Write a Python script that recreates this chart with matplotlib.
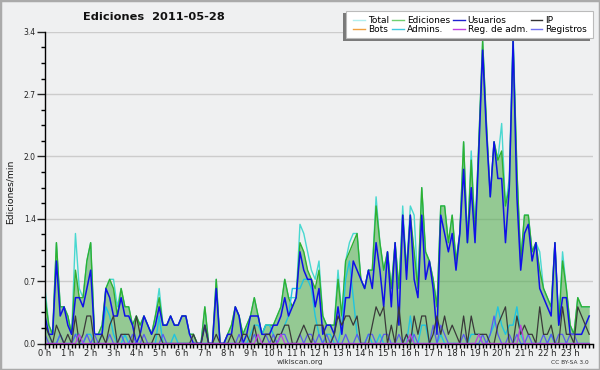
import matplotlib
matplotlib.use('Agg')
import matplotlib.pyplot as plt
import numpy as np
from matplotlib.patches import Rectangle
from matplotlib.lines import Line2D
from matplotlib.ticker import MultipleLocator

# edits per minute, one value every 10 minutes (6 per hour, 24 hours)
total = [
    0.6, 0.2, 0.1, 1.1, 0.4, 0.4,   0.3, 0.1, 1.2, 0.6, 0.5, 0.9,
    1.1, 0.1, 0.1, 0.2, 0.6, 0.7,   0.7, 0.4, 0.6, 0.4, 0.4, 0.2,
    0.3, 0.2, 0.3, 0.2, 0.1, 0.3,   0.6, 0.2, 0.2, 0.3, 0.2, 0.2,
    0.3, 0.3, 0.1, 0.1, 0.0, 0.0,   0.4, 0.0, 0.0, 0.7, 0.0, 0.0,
    0.1, 0.2, 0.4, 0.3, 0.1, 0.2,   0.3, 0.5, 0.3, 0.1, 0.2, 0.2,
    0.2, 0.3, 0.4, 0.7, 0.5, 0.5,   0.5, 1.3, 1.2, 1.0, 0.8, 0.7,
    0.9, 0.3, 0.2, 0.2, 0.2, 0.8,   0.3, 0.9, 1.1, 1.2, 1.2, 0.7,
    0.6, 0.8, 0.8, 1.6, 1.1, 0.8,   1.0, 0.6, 1.1, 0.6, 1.5, 0.8,
    1.5, 1.4, 0.6, 1.7, 1.0, 0.9,   0.7, 0.4, 1.5, 1.5, 1.1, 1.4,
    0.9, 1.2, 2.2, 1.1, 2.1, 1.2,   2.2, 3.3, 2.4, 1.6, 2.2, 2.0,
    2.4, 1.5, 1.8, 3.4, 1.9, 0.9,   1.4, 1.4, 1.0, 1.1, 1.0, 0.6,
    0.5, 0.4, 1.1, 0.2, 1.0, 0.6,   0.2, 0.1, 0.5, 0.4, 0.4, 0.4,
]
ediciones = [
    0.5, 0.2, 0.1, 1.1, 0.4, 0.4,   0.3, 0.1, 0.8, 0.5, 0.5, 0.9,
    1.1, 0.1, 0.1, 0.2, 0.6, 0.7,   0.6, 0.3, 0.6, 0.4, 0.4, 0.2,
    0.3, 0.2, 0.3, 0.2, 0.1, 0.3,   0.5, 0.2, 0.2, 0.3, 0.2, 0.2,
    0.3, 0.3, 0.1, 0.1, 0.0, 0.0,   0.4, 0.0, 0.0, 0.7, 0.0, 0.0,
    0.1, 0.2, 0.4, 0.3, 0.1, 0.2,   0.3, 0.5, 0.3, 0.1, 0.2, 0.2,
    0.2, 0.3, 0.4, 0.7, 0.5, 0.4,   0.5, 1.1, 1.0, 0.8, 0.7, 0.6,
    0.8, 0.3, 0.2, 0.2, 0.2, 0.7,   0.3, 0.9, 1.0, 1.1, 1.2, 0.7,
    0.6, 0.8, 0.8, 1.5, 1.1, 0.8,   1.0, 0.6, 1.1, 0.6, 1.4, 0.8,
    1.4, 1.0, 0.6, 1.7, 1.0, 0.9,   0.7, 0.4, 1.5, 1.5, 1.1, 1.4,
    0.9, 1.2, 2.2, 1.1, 2.0, 1.2,   2.2, 3.3, 2.4, 1.6, 2.2, 2.0,
    2.1, 1.5, 1.7, 3.3, 1.9, 0.9,   1.4, 1.4, 1.0, 1.1, 0.8, 0.6,
    0.5, 0.4, 1.1, 0.2, 0.9, 0.6,   0.2, 0.1, 0.5, 0.4, 0.4, 0.4,
]
usuarios = [
    0.3, 0.1, 0.1, 0.9, 0.3, 0.4,   0.2, 0.1, 0.5, 0.5, 0.4, 0.6,
    0.8, 0.1, 0.1, 0.1, 0.6, 0.5,   0.3, 0.3, 0.5, 0.3, 0.3, 0.2,
    0.0, 0.1, 0.3, 0.2, 0.1, 0.2,   0.4, 0.2, 0.2, 0.3, 0.2, 0.2,
    0.3, 0.3, 0.1, 0.0, 0.0, 0.0,   0.2, 0.0, 0.0, 0.6, 0.0, 0.0,
    0.1, 0.1, 0.4, 0.3, 0.0, 0.1,   0.3, 0.3, 0.3, 0.1, 0.1, 0.1,
    0.2, 0.2, 0.3, 0.5, 0.3, 0.4,   0.5, 1.0, 0.8, 0.7, 0.7, 0.4,
    0.6, 0.1, 0.2, 0.2, 0.1, 0.4,   0.1, 0.5, 0.5, 0.9, 0.8, 0.7,
    0.6, 0.8, 0.6, 1.1, 0.8, 0.4,   1.0, 0.4, 1.1, 0.2, 1.4, 0.7,
    1.4, 0.7, 0.5, 1.4, 0.7, 0.9,   0.6, 0.1, 1.4, 1.2, 1.0, 1.2,
    0.8, 1.2, 1.9, 1.1, 1.7, 1.1,   2.1, 3.2, 2.3, 1.6, 2.2, 1.8,
    1.8, 1.1, 1.7, 3.3, 1.6, 0.8,   1.2, 1.3, 0.9, 1.1, 0.6, 0.5,
    0.4, 0.3, 1.1, 0.2, 0.5, 0.5,   0.1, 0.1, 0.1, 0.1, 0.2, 0.3,
]
ip = [
    0.2, 0.1, 0.0, 0.2, 0.1, 0.0,   0.1, 0.0, 0.3, 0.0, 0.1, 0.3,
    0.3, 0.0, 0.0, 0.1, 0.0, 0.2,   0.3, 0.0, 0.1, 0.1, 0.1, 0.0,
    0.3, 0.1, 0.0, 0.0, 0.0, 0.1,   0.1, 0.0, 0.0, 0.0, 0.0, 0.0,
    0.0, 0.0, 0.0, 0.1, 0.0, 0.0,   0.2, 0.0, 0.0, 0.1, 0.0, 0.0,
    0.0, 0.1, 0.0, 0.0, 0.1, 0.1,   0.0, 0.2, 0.0, 0.0, 0.1, 0.1,
    0.0, 0.1, 0.1, 0.2, 0.2, 0.0,   0.0, 0.1, 0.2, 0.1, 0.0, 0.2,
    0.2, 0.2, 0.0, 0.0, 0.1, 0.3,   0.2, 0.3, 0.3, 0.2, 0.3, 0.0,
    0.0, 0.0, 0.2, 0.4, 0.3, 0.4,   0.0, 0.2, 0.0, 0.4, 0.0, 0.1,
    0.0, 0.3, 0.1, 0.3, 0.3, 0.0,   0.1, 0.3, 0.1, 0.3, 0.1, 0.2,
    0.1, 0.0, 0.3, 0.0, 0.3, 0.1,   0.1, 0.1, 0.1, 0.0, 0.0, 0.2,
    0.3, 0.4, 0.0, 0.0, 0.3, 0.1,   0.2, 0.1, 0.1, 0.0, 0.4, 0.1,
    0.1, 0.2, 0.0, 0.0, 0.4, 0.1,   0.1, 0.0, 0.4, 0.3, 0.2, 0.1,
]
bots = [0.0] * 144
admins = [
    0.2, 0.1, 0.0, 0.0, 0.1, 0.0,   0.0, 0.0, 0.1, 0.1, 0.0, 0.1,
    0.1, 0.0, 0.0, 0.1, 0.4, 0.3,   0.1, 0.0, 0.0, 0.1, 0.0, 0.0,
    0.0, 0.0, 0.0, 0.0, 0.0, 0.0,   0.3, 0.0, 0.0, 0.0, 0.1, 0.0,
    0.0, 0.0, 0.0, 0.0, 0.0, 0.0,   0.0, 0.0, 0.0, 0.0, 0.0, 0.0,
    0.0, 0.0, 0.0, 0.0, 0.0, 0.0,   0.1, 0.2, 0.2, 0.1, 0.2, 0.2,
    0.1, 0.0, 0.1, 0.2, 0.3, 0.6,   0.6, 0.6, 0.7, 0.7, 0.6, 0.3,
    0.1, 0.0, 0.1, 0.1, 0.0, 0.0,   0.2, 0.7, 0.9, 0.5, 0.1, 0.0,
    0.0, 0.1, 0.0, 0.0, 0.1, 0.0,   0.0, 0.0, 0.0, 0.0, 0.0, 0.0,
    0.3, 0.0, 0.0, 0.2, 0.2, 0.0,   0.0, 0.0, 0.1, 0.0, 0.0, 0.0,
    0.0, 0.0, 0.0, 0.0, 0.1, 0.1,   0.1, 0.0, 0.0, 0.1, 0.2, 0.4,
    0.2, 0.1, 0.2, 0.2, 0.4, 0.1,   0.0, 0.0, 0.0, 0.0, 0.0, 0.0,
    0.0, 0.1, 0.0, 0.0, 0.0, 0.0,   0.0, 0.0, 0.0, 0.0, 0.0, 0.0,
]
reg_adm = [
    0.0, 0.0, 0.0, 0.0, 0.0, 0.0,   0.0, 0.0, 0.0, 0.1, 0.0, 0.0,
    0.0, 0.0, 0.0, 0.0, 0.0, 0.0,   0.0, 0.0, 0.0, 0.0, 0.0, 0.0,
    0.0, 0.0, 0.0, 0.0, 0.0, 0.0,   0.0, 0.0, 0.0, 0.0, 0.0, 0.0,
    0.0, 0.0, 0.0, 0.0, 0.0, 0.0,   0.0, 0.0, 0.0, 0.0, 0.0, 0.0,
    0.0, 0.0, 0.0, 0.0, 0.0, 0.0,   0.0, 0.0, 0.1, 0.0, 0.0, 0.0,
    0.0, 0.0, 0.1, 0.0, 0.0, 0.0,   0.0, 0.0, 0.0, 0.0, 0.0, 0.0,
    0.0, 0.0, 0.0, 0.0, 0.0, 0.0,   0.0, 0.0, 0.0, 0.0, 0.0, 0.0,
    0.0, 0.0, 0.0, 0.0, 0.0, 0.0,   0.0, 0.0, 0.0, 0.0, 0.0, 0.0,
    0.1, 0.0, 0.0, 0.0, 0.0, 0.0,   0.0, 0.0, 0.0, 0.0, 0.0, 0.0,
    0.0, 0.0, 0.0, 0.0, 0.0, 0.0,   0.1, 0.0, 0.0, 0.0, 0.0, 0.0,
    0.0, 0.0, 0.0, 0.0, 0.0, 0.2,   0.0, 0.0, 0.0, 0.0, 0.0, 0.0,
    0.0, 0.0, 0.0, 0.0, 0.0, 0.0,   0.0, 0.0, 0.0, 0.0, 0.0, 0.0,
]
registros = [
    0.1, 0.0, 0.0, 0.0, 0.1, 0.0,   0.0, 0.0, 0.1, 0.0, 0.0, 0.1,
    0.0, 0.1, 0.0, 0.0, 0.0, 0.1,   0.0, 0.0, 0.1, 0.0, 0.0, 0.1,
    0.0, 0.0, 0.1, 0.0, 0.0, 0.0,   0.0, 0.1, 0.0, 0.0, 0.0, 0.0,
    0.0, 0.0, 0.0, 0.0, 0.0, 0.0,   0.0, 0.0, 0.0, 0.0, 0.0, 0.0,
    0.0, 0.0, 0.0, 0.1, 0.0, 0.0,   0.0, 0.1, 0.0, 0.0, 0.1, 0.0,
    0.1, 0.0, 0.1, 0.1, 0.0, 0.0,   0.0, 0.1, 0.0, 0.1, 0.1, 0.0,
    0.1, 0.0, 0.1, 0.0, 0.1, 0.0,   0.0, 0.1, 0.0, 0.0, 0.1, 0.0,
    0.0, 0.1, 0.1, 0.0, 0.0, 0.1,   0.1, 0.0, 0.0, 0.1, 0.0, 0.1,
    0.0, 0.1, 0.0, 0.0, 0.0, 0.0,   0.2, 0.0, 0.2, 0.1, 0.0, 0.0,
    0.0, 0.0, 0.1, 0.0, 0.0, 0.0,   0.0, 0.1, 0.0, 0.1, 0.3, 0.1,
    0.0, 0.0, 0.1, 0.0, 0.1, 0.0,   0.0, 0.1, 0.0, 0.0, 0.0, 0.1,
    0.0, 0.1, 0.0, 0.1, 0.1, 0.0,   0.1, 0.1, 0.0, 0.0, 0.0, 0.0,
]

hour_labels = ['%d h' % h for h in range(24)]
y_ticks = [0.0, 0.68, 1.36, 2.04, 2.72, 3.4]
y_labels = ['0.0', '0.7', '1.4', '2.0', '2.7', '3.4']

x = np.arange(len(ediciones)) / 6.0

bg = '#eff0f1'
fig = plt.figure(figsize=(6, 3.7), dpi=100, facecolor=bg)
ax = fig.add_axes([45/600, 1-343.5/370, 548/600, (343.5-31.8)/370])
ax.set_facecolor(bg)

ax.plot(x, bots, color='#f0a040', lw=1.0, zorder=1)
ax.fill_between(x, ediciones, color='#57af55', alpha=0.6, lw=0, zorder=2)
ax.plot(x, total, color='#48d8d0', lw=1.0, zorder=3)
ax.plot(x, ediciones, color='#30b030', lw=1.0, zorder=4)
ax.plot(x, admins, color='#20c4e0', lw=1.0, zorder=5)
ax.plot(x, usuarios, color='#1010e8', lw=1.1, zorder=6)
ax.plot(x, ip, color='#3a3a3a', lw=0.9, zorder=7)
ax.plot(x, registros, color='#5a5af0', lw=0.9, zorder=6)
ax.plot(x, reg_adm, color='#c040e0', lw=0.9, zorder=7)

ax.set_xlim(0, 24)
ax.set_ylim(0, 3.4)
ax.set_yticks(y_ticks)
ax.set_yticklabels(y_labels)
ax.yaxis.set_minor_locator(MultipleLocator(0.17))
ax.set_xticks(np.arange(24))
ax.set_xticklabels(hour_labels)
ax.xaxis.set_minor_locator(MultipleLocator(1/6))
ax.tick_params(axis='y', which='major', length=6, width=1, labelsize=5.5, pad=0.5, colors='#222222')
ax.tick_params(axis='y', which='minor', length=3, width=1)
ax.tick_params(axis='x', which='major', length=3.5, width=1, labelsize=6, pad=0.3, colors='#222222')
ax.tick_params(axis='x', which='minor', length=3, width=1)
ax.grid(axis='y', color='#cccccc', lw=1)
ax.set_axisbelow(True)
for s in ['top', 'right']:
    ax.spines[s].set_visible(False)
for s in ['left', 'bottom']:
    ax.spines[s].set_color('black')
    ax.spines[s].set_linewidth(1)
    ax.spines[s].set_zorder(10)

fig.text(154/600, 1-17/370, 'Ediciones  2011-05-28', ha='center', va='center',
         fontsize=8.2, fontweight='bold', color='#111111')
fig.text(10/600, 1-192/370, 'Ediciones/min', rotation=90, ha='center', va='center',
         fontsize=6.6, color='#111111')
fig.text(300/600, 1-362/370, 'wikiscan.org', ha='center', va='center', fontsize=5.4, color='#333333')
fig.text(589/600, 1-362/370, 'CC BY-SA 3.0', ha='right', va='center', fontsize=4.2, color='#333333')

# legend box with shadow down-left
fig.add_artist(Rectangle((343/600, 1-41/370), 247/600, 28/370, transform=fig.transFigure,
                         facecolor='#7a7a7a', edgecolor='none', zorder=3))
fig.add_artist(Rectangle((346/600, 1-38/370), 247/600, 27/370, transform=fig.transFigure,
                         facecolor='white', edgecolor='#bbbbbb', lw=0.8, zorder=4))
names = ['Total', 'Bots', 'Ediciones', 'Admins.', 'Usuarios', 'Reg. de adm.', 'IP', 'Registros']
cols = ['#b0eeee', '#f0a040', '#70d070', '#40c8e0', '#2020d0', '#c040e0', '#333333', '#7070f0']
handles = [Line2D([], [], color=c, lw=1) for c in cols]
fig.legend(handles, names, ncol=4, loc='upper left', bbox_to_anchor=(347/600, 1-10/370),
           frameon=False, fontsize=6.5, handlelength=1.3, handletextpad=0.35,
           columnspacing=0.3, labelspacing=0.0, borderpad=0.2)

# outer frame
fig.add_artist(Rectangle((0, 0), 1, 1, transform=fig.transFigure, fill=False,
                         edgecolor='#aaaaaa', lw=2.5, zorder=20))

fig.savefig('out.png', dpi=100, facecolor=bg)
